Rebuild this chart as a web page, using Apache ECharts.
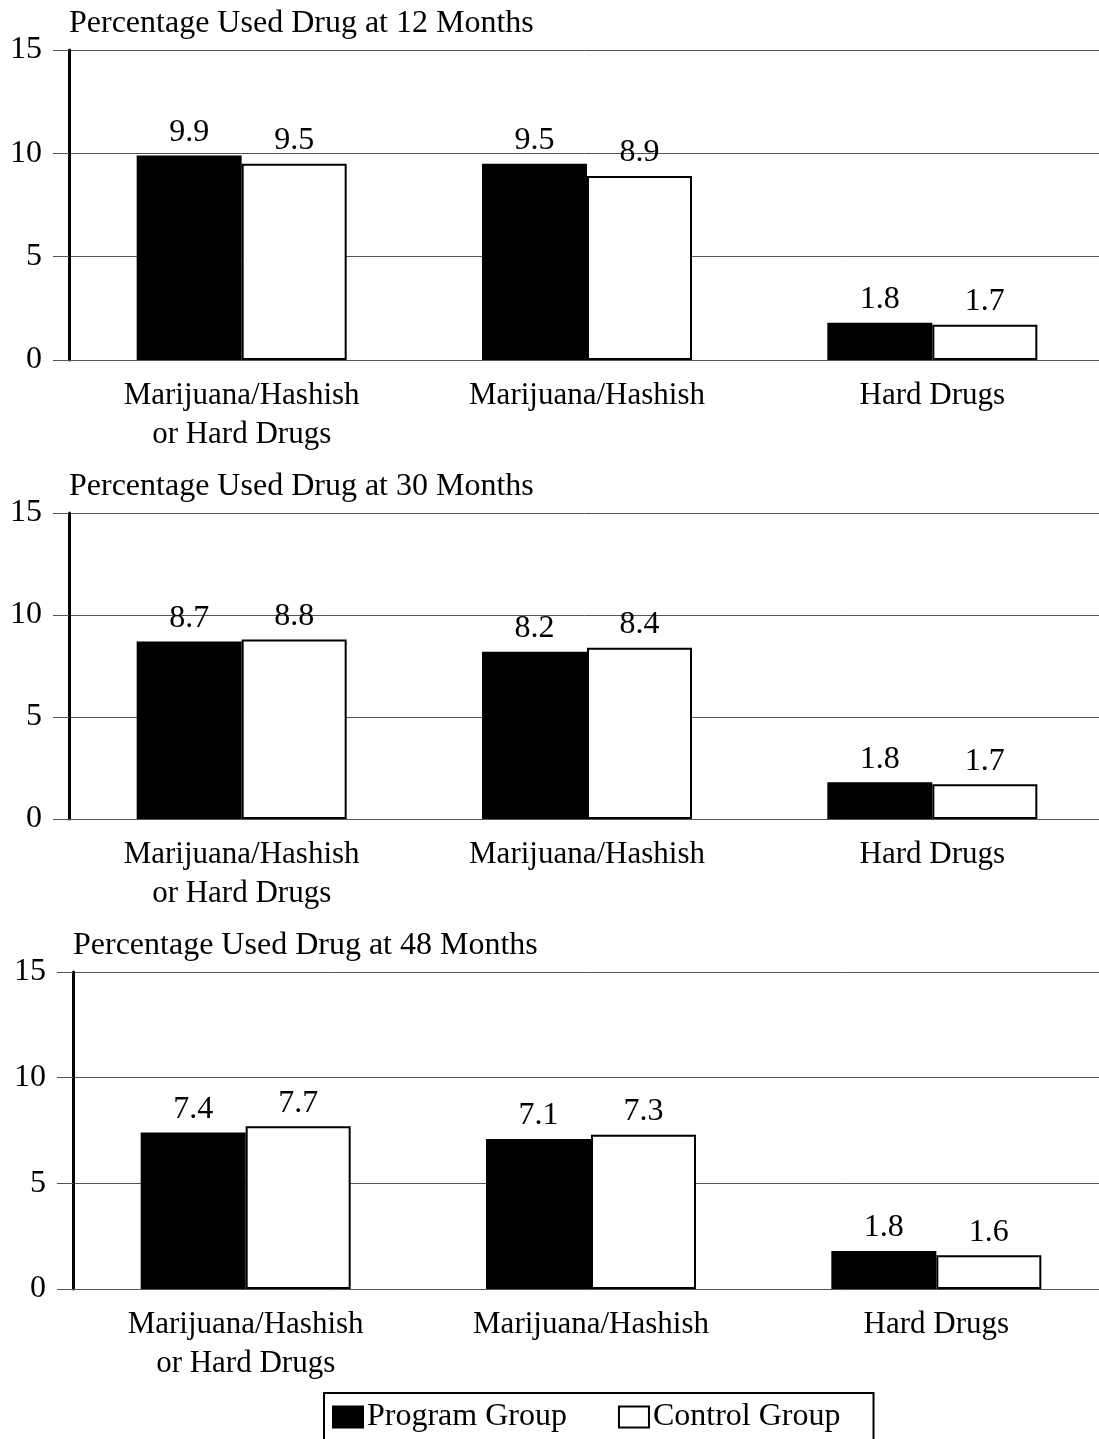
<!DOCTYPE html>
<html>
<head>
<meta charset="utf-8">
<script src="https://cdn.jsdelivr.net/npm/echarts@6/dist/echarts.min.js"></script>
<style>
html,body{margin:0;padding:0;background:#fff;}
#chart{width:1099px;height:1439px;}
</style>
</head>
<body>
<div id="chart"></div>
<script>
const categories = ['Marijuana/Hashish\nor Hard Drugs', 'Marijuana/Hashish', 'Hard Drugs'];
const panelTitles = ['Percentage Used Drug at 12 Months', 'Percentage Used Drug at 30 Months', 'Percentage Used Drug at 48 Months'];
const program12 = [9.9, 9.5, 1.8];
const control12 = [9.5, 8.9, 1.7];
const program30 = [8.7, 8.2, 1.8];
const control30 = [8.8, 8.4, 1.7];
const program48 = [7.4, 7.1, 1.8];
const control48 = [7.7, 7.3, 1.6];
const yTicks = [0, 5, 10, 15];

const programSets = [program12, program30, program48];
const controlSets = [control12, control30, control48];

const FONT = '"Liberation Serif", "Times New Roman", serif';
const FS = 32;
const FS_CAT = 31;

const grids = [
  {left: 69, width: 1036, top: 50, height: 310},
  {left: 69, width: 1036, top: 513, height: 306},
  {left: 73, width: 1036, top: 972, height: 317}
];
const gridColor = '#555';

const option = {
  animation: false,
  backgroundColor: '#fff',
  textStyle: {fontFamily: FONT},
  title: panelTitles.map((t, i) => ({
    text: t,
    left: grids[i].left,
    top: grids[i].top - 42,
    padding: 0,
    textStyle: {fontFamily: FONT, fontSize: FS, fontWeight: 'normal', color: '#000'}
  })),
  legend: {
    top: 1393,
    left: 324,
    itemWidth: 30,
    itemHeight: 21,
    itemGap: 51,
    padding: [8, 33, 20, 8],
    borderColor: '#000',
    borderWidth: 2,
    borderRadius: 0,
    icon: 'rect',
    textStyle: {fontFamily: FONT, fontSize: FS, color: '#000', padding: [0, 0, 0, -1]},
    data: ['Program Group', 'Control Group']
  },
  grid: grids.map(g => ({left: g.left, width: g.width, top: g.top, height: g.height, containLabel: false, outerBoundsMode: 'none'})),
  xAxis: grids.map((g, i) => ({
    type: 'category',
    gridIndex: i,
    data: categories,
    axisLine: {show: true, lineStyle: {color: gridColor, width: 1}},
    axisTick: {show: false},
    axisLabel: {fontFamily: FONT, fontSize: FS_CAT, color: '#000', margin: 16, lineHeight: 39, interval: 0}
  })),
  yAxis: grids.map((g, i) => ({
    type: 'value',
    gridIndex: i,
    min: yTicks[0],
    max: yTicks[yTicks.length - 1],
    interval: 5,
    axisLine: {show: true, lineStyle: {color: '#000', width: 3}},
    axisTick: {show: true, inside: false, length: 16, lineStyle: {color: gridColor, width: 1}},
    splitLine: {show: true, lineStyle: {color: gridColor, width: 1}},
    axisLabel: {fontFamily: FONT, fontSize: FS, color: '#000', margin: 27}
  })),
  series: []
};

for (let i = 0; i < 3; i++) {
  option.series.push({
    name: 'Program Group',
    type: 'bar',
    xAxisIndex: i,
    yAxisIndex: i,
    data: programSets[i],
    barWidth: 105,
    barGap: '0%',
    itemStyle: {color: '#000', borderColor: '#000', borderWidth: 2},
    label: {show: true, position: 'top', distance: 7, fontFamily: FONT, fontSize: FS, color: '#000'}
  });
  option.series.push({
    name: 'Control Group',
    type: 'bar',
    xAxisIndex: i,
    yAxisIndex: i,
    data: controlSets[i],
    barWidth: 105,
    barGap: '0%',
    itemStyle: {color: '#fff', borderColor: '#000', borderWidth: 2},
    label: {show: true, position: 'top', distance: 7, fontFamily: FONT, fontSize: FS, color: '#000'}
  });
}

const chart = echarts.init(document.getElementById('chart'), null, {renderer: 'canvas'});
chart.setOption(option);
</script>
</body>
</html>
